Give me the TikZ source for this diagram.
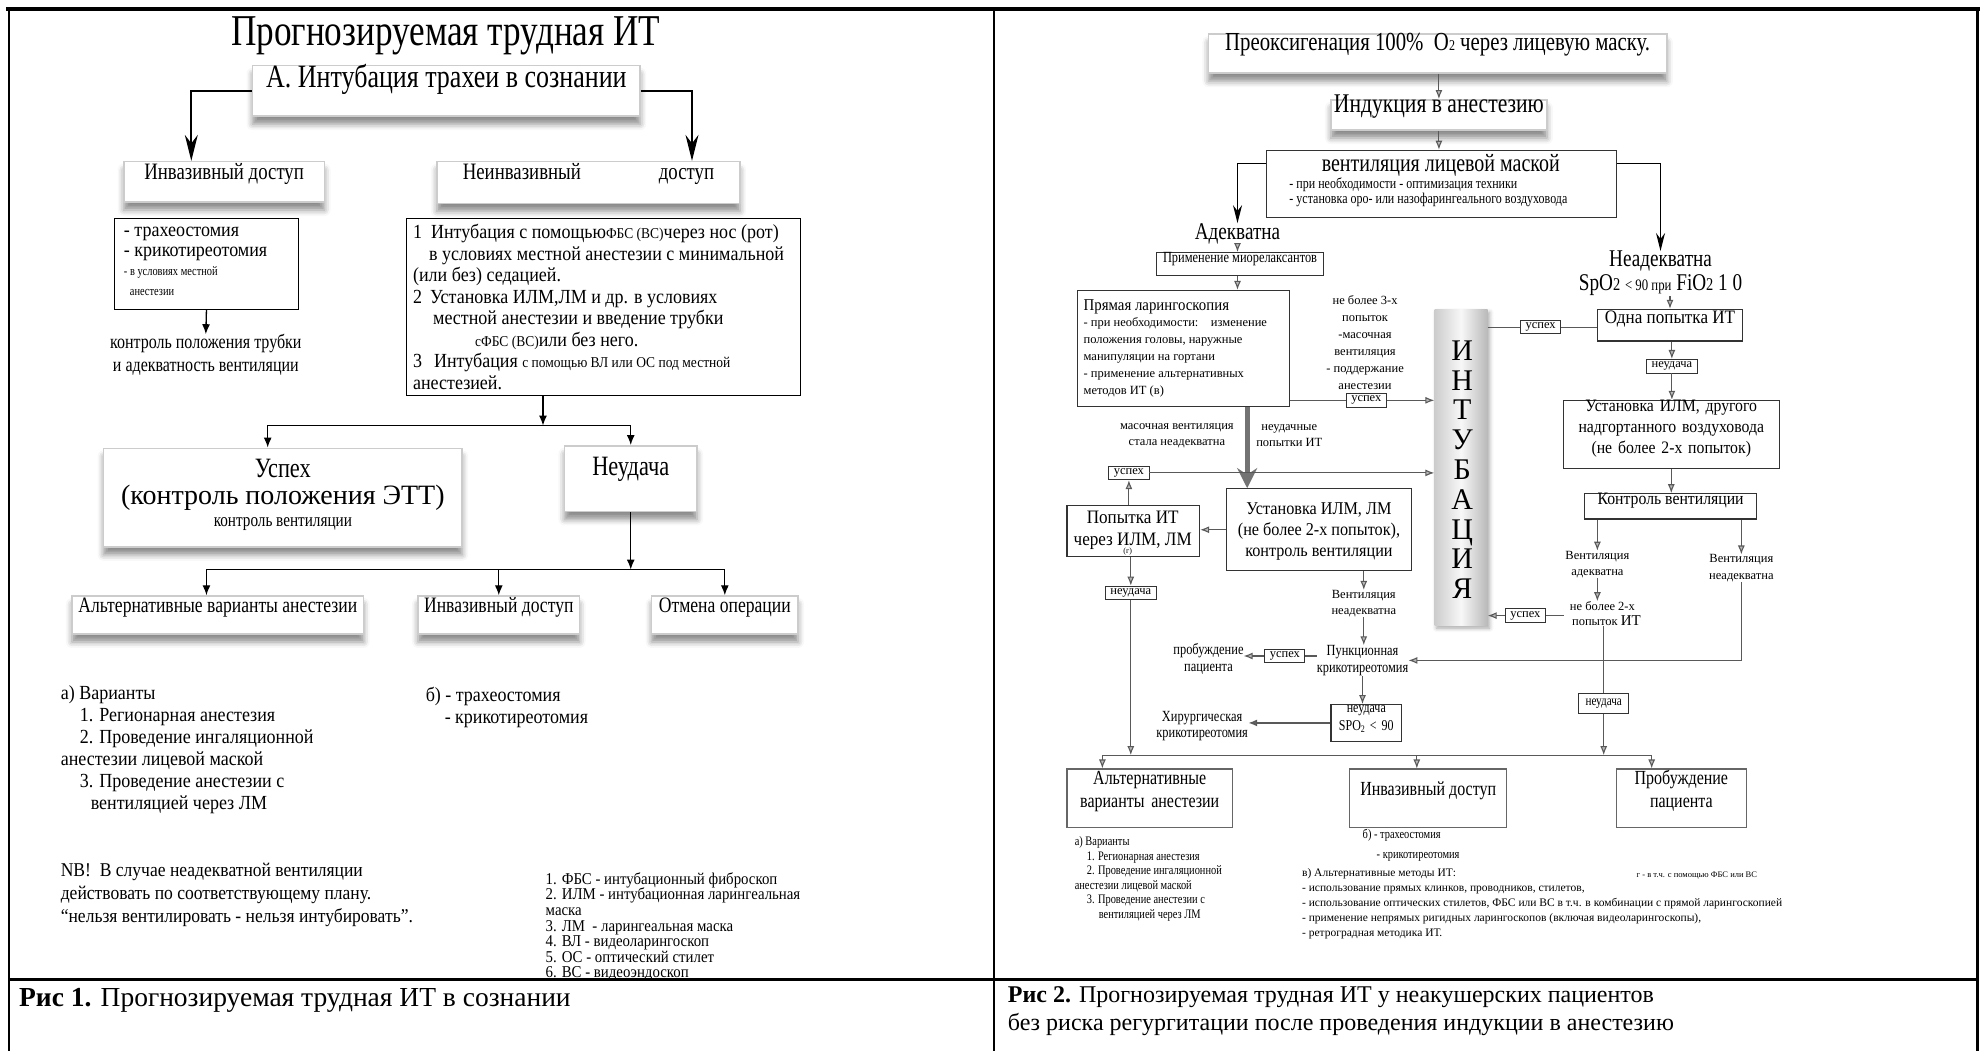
\documentclass[tikz,border=0pt]{standalone}
\usepackage{fontspec}
\setmainfont{Liberation Serif}
\newfontfamily\cA[FakeStretch=0.8]{Liberation Serif}
\newfontfamily\gar[FakeStretch=0.9]{Liberation Serif}
\usetikzlibrary{arrows.meta,shadows.blur,fit,calc}
\newcommand\fz[2]{\fontsize{#1}{#2}\selectfont}

\begin{document}
\begin{tikzpicture}[x=1.2628pt,y=-1.2628pt,
  sbox/.style={draw=gray!40, line width=1.5pt, fill=white, inner sep=0pt,
     blur shadow={shadow xshift=0pt, shadow yshift=-8pt, shadow blur radius=6pt, shadow opacity=45}},
  lbox/.style={draw=black, line width=0.9pt, fill=white, inner sep=0pt},
  rbox/.style={draw=black!80, line width=1.1pt, fill=white, inner sep=0pt},
  tagbox/.style={draw=black!80, line width=0.9pt, fill=white, inner xsep=5pt, inner ysep=2.5pt, font=\fz{12.5}{13}},
  bigarr/.style={-{Stealth[length=26pt,width=13pt]}, line width=1.8pt},
  midarr/.style={-{Stealth[length=18pt,width=9pt]}, line width=1.4pt},
  larr/.style={-{Latex[length=10pt,width=8pt]}, line width=1.3pt},
  garr/.style={-{Latex[length=9pt,width=7pt,fill=gray!55]}, draw=black!65, line width=1.1pt},
  gline/.style={draw=black!65, line width=1.1pt},
  thickarr/.style={-{Stealth[length=20pt,width=20pt]}, draw=black!55, line width=5pt},
  txt/.style={inner sep=0pt}
]
\useasboundingbox (0,0) rectangle (1568,832);

% ---------- frame ----------
\draw[line width=4pt] (5,7) -- (1568,7);
\draw[line width=2.5pt] (7,7) -- (7,832);
\draw[line width=2.5pt] (787,7) -- (787,832);
\draw[line width=2.5pt] (1566,7) -- (1566,832);
\draw[line width=3pt] (7,776) -- (1566,776);

% =================== Fig. 1 ===================
\node[font=\cA\fz{44}{50}] (title) at (353,28) {Прогнозируемая трудная ИТ};
\node[sbox, fit={(200,52)(507,92)}, font=\cA\fz{32.5}{34}] (A) {А. Интубация трахеи в сознании};
\node[sbox, fit={(98,128)(257,160)}, font=\cA\fz{23.5}{26}] (inv) {Инвазивный доступ};
\node[sbox, fit={(346,128)(586,161)}, font=\cA\fz{23.5}{26}] (ninv) {Неинвазивный\hspace{78pt}доступ};
\draw[bigarr] (A.west) -| ($(inv.north)+(-26,0)$);
\draw[bigarr] (A.east) -| ($(ninv.north)+(82,0)$);

\node[lbox, fit={(91,173)(236,245)}] (sb) {};
\node[txt, anchor=west, align=left, font=\gar\fz{20}{19.5}] (sbt) at (98,207)
  {- трахеостомия\\- крикотиреотомия\\{\cA\fz{13}{14}- в условиях местной}\\{\cA\fz{13}{14}\hspace{6pt}анестезии}};
\node[txt, align=center, font=\cA\fz{20}{22.7}] (kt) at (163,281)
  {контроль положения трубки\\и адекватность вентиляции};
\draw[larr] (sb.south) -- (kt.north);

\node[lbox, fit={(322,173)(634,313)}] (big) {};
\node[txt, anchor=west, align=left, font=\gar\fz{20}{21.5}] (bigt) at (327,243)
  {1\hspace{9pt}Интубация с помощью{\fz{15}{15}ФБС (ВС)}через нос (рот)\\
   \hspace{16pt}в условиях местной анестезии с минимальной\\
   (или без) седацией.\\
   2\hspace{8pt}Установка ИЛМ,ЛМ и др. в условиях\\
   \hspace{20pt}местной анестезии и введение трубки\\
   \hspace{62pt}{\fz{15}{15}сФБС (ВС)}или без него.\\
   3\hspace{12pt}Интубация {\fz{15}{15}с помощью ВЛ или ОС под местной}\\
   анестезией.};

\coordinate (s1) at (430,337);
\node[sbox, fit={(82,355)(366,433)}] (usp) {};
\node[txt, font=\cA\fz{28}{30}] (ut1) at (224,371) {Успех};
\node[txt, font=\fz{28}{30}] (ut2) at (224,394) {(контроль положения ЭТТ)};
\node[txt, font=\cA\fz{19}{20}] (ut3) at (224,415) {контроль вентиляции};
\node[sbox, fit={(447,353)(552,405)}, font=\cA\fz{28}{30}] (neud) {Неудача};
\draw[larr] (s1 |- big.south) -- (s1);
\draw[larr] (s1) -| ($(usp.north)+(-12,0)$);
\draw[larr] (s1) -| (neud.north);

\coordinate (s2) at (500,451);
\node[sbox, fit={(57,472)(288,502)}, font=\cA\fz{22}{24}] (alt) {Альтернативные варианты анестезии};
\node[sbox, fit={(331,472)(459,502)}, font=\cA\fz{22}{24}] (inv2) {Инвазивный доступ};
\node[sbox, fit={(516,472)(632,502)}, font=\cA\fz{22}{24}] (otm) {Отмена операции};
\draw[larr] (neud.south) -- (neud.south |- s2);
\draw[larr] (s2) -| ($(alt.north)+(-9,0)$);
\draw[larr] (inv2.north |- s2) -- (inv2.north);
\draw[larr] (s2) -| (otm.north);

\node[txt, anchor=west, align=left, font=\gar\fz{20}{22}] (fa) at (48,594)
  {а) Варианты\\\hspace{19pt}1. Регионарная анестезия\\\hspace{19pt}2. Проведение ингаляционной\\анестезии лицевой маской\\\hspace{19pt}3. Проведение анестезии с\\\hspace{30pt}вентиляцией через ЛМ};
\node[txt, anchor=west, align=left, font=\gar\fz{20}{22}] (fb) at (337,560)
  {б) - трахеостомия\\\hspace{19pt}- крикотиреотомия};
\node[txt, anchor=west, align=left, font=\gar\fz{19.5}{23}] (nb) at (48,709)
  {NB!\ \ В случае неадекватной вентиляции\\действовать по соответствующему плану.\\“нельзя вентилировать - нельзя интубировать”.};
\node[txt, anchor=west, align=left, font=\gar\fz{16.5}{15.6}] (leg) at (432,734)
  {1. ФБС - интубационный фиброскоп\\2. ИЛМ - интубационная ларингеальная\\маска\\3. ЛМ\ \ - ларингеальная маска\\4. ВЛ - видеоларингоскоп\\5. ОС - оптический стилет\\6. ВС - видеоэндоскоп};
\node[txt, anchor=west, font=\fz{27.5}{30}] (cap1) at (15,792)
  {\textbf{Рис 1.} Прогнозируемая трудная ИТ в сознании};

% =================== Fig. 2 ===================
\node[sbox, fit={(957,27)(1320,58)}, font=\cA\fz{26}{28}] (r1) {Преоксигенация 100\%\ \ O{\fz{15}{15}2} через лицевую маску.};
\node[sbox, fit={(1054,79)(1225,103)}, font=\cA\fz{27}{28}] (r2) {Индукция в анестезию};
\draw[garr] (r2.north |- r1.south) -- (r2.north);
\node[rbox, fit={(1003,119)(1280,172)}] (r3) {};
\node[txt, font=\cA\fz{25}{26}] (r3a) at (1141,131) {вентиляция лицевой маской};
\node[txt, anchor=west, align=left, font=\cA\fz{15}{15}] (r3b) at (1021,152)
  {- при необходимости - оптимизация техники\\- установка оро- или назофарингеального воздуховода};
\draw[garr] (r2.south) -- (r2.south |- r3.north);

\node[txt, font=\cA\fz{24}{26}] (adek) at (980,185) {Адекватна};
\node[txt, font=\cA\fz{24}{26}] (nadek) at (1315,207) {Неадекватна};
\node[txt, font=\cA\fz{24}{26}] (spo) at (1315,226) {SpO{\fz{18}{18}2} {\fz{16}{16}< 90 при} FiO{\fz{18}{18}2} 1 0};
\draw[midarr] ([yshift=20pt]r3.west) -| (adek.north);
\draw[midarr] ([yshift=20pt]r3.east) -| (nadek.north);

\node[rbox, fit={(916,200)(1048,218)}, font=\cA\fz{15.5}{16}] (prim) {Применение миорелаксантов};
\draw[garr] (adek.south) -- (adek.south |- prim.north);

\node[rbox, fit={(853,230)(1021,322)}] (pl) {};
\draw[garr] (prim.south -| adek.south) -- (adek.south |- pl.north);
\node[txt, anchor=west, font=\gar\fz{16.5}{18}] (plt) at (858,243) {Прямая ларингоскопия};
\node[txt, anchor=west, align=left, font=\fz{12.5}{16.8}] (pls) at (858,283)
  {- при необходимости:\ \ \ \ изменение\\положения головы, наружные\\манипуляции на гортани\\- применение альтернативных\\методов ИТ (в)};
\node[txt, align=center, font=\fz{12.5}{17}] (nb3) at (1081,271)
  {не более 3-х\\попыток\\-масочная\\вентиляция\\- поддержание\\анестезии};

% intubation bar
\node[fit={(1136,245)(1178,495)}, inner sep=0pt, left color=gray!40, right color=gray!55, middle color=gray!6,
      blur shadow={shadow xshift=2pt, shadow yshift=-3pt, shadow blur radius=4pt, shadow opacity=35}] (bar) {};
\node[txt, align=center, font=\fz{30}{29.8}] (lett) at (1158,372) {И\\Н\\Т\\У\\Б\\А\\Ц\\И\\Я};

\node[tagbox] (us1) at (1082,317) {успех};
\draw[gline] (us1.west -| pl.east) -- (us1.west);
\draw[garr] (us1.east) -- (us1.east -| bar.west);

\node[rbox, fit={(971,387)(1118,452)}] (ust1) {};
\node[txt, align=center, font=\gar\fz{18}{21}] (ust1t) at (1044.5,421)
  {Установка ИЛМ, ЛМ\\(не более 2-х попыток),\\контроль вентиляции};
\draw[thickarr] ($(pl.south west)!0.8!(pl.south east)$) coordinate (t1) -- (t1 |- ust1.north);
\node[txt, align=center, font=\fz{12.5}{16.5}] (ml) at (932,345) {масочная вентиляция\\стала неадекватна};
\node[txt, align=center, font=\fz{12.5}{16.5}] (nl) at (1021,345) {неудачные\\попытки ИТ};

\node[tagbox] (us2) at (894,374.5) {успех};
\draw[garr] (us2.east) -- (us2.east -| bar.west);
\node[rbox, fit={(845,400)(950,441)}] (pop) {};
\node[txt, align=center, font=\gar\fz{19}{21.5}] (popt) at (897,420) {Попытка ИТ\\через ИЛМ, ЛМ};
\node[txt, font=\fz{8}{8}] (gmark) at (893,437) {(г)};
\draw[garr] (pop.north -| us2.south) -- (us2.south);
\draw[garr] (ust1.west) -- (ust1.west -| pop.east);

\coordinate (bl) at (873,598);
\coordinate (br) at (1308,598);
\node[tagbox] (nd1) at (895.5,469.5) {неудача};
\draw[garr] (pop.south -| nd1.north) -- (nd1.north);
\draw[garr] (nd1.south) -- (nd1.south |- bl);

\node[txt, align=center, font=\fz{12.5}{16.5}] (vn1) at (1080,478) {Вентиляция\\неадекватна};
\draw[garr] (vn1.north |- ust1.south) -- (vn1.north);
\node[txt, align=center, font=\cA\fz{15.5}{16.5}] (punk) at (1079,523) {Пункционная\\крикотиреотомия};
\draw[garr] (vn1.south) -- (vn1.south |- punk.north);
\node[tagbox] (us3) at (1017.5,519.5) {успех};
\draw[gline] (us3.east -| punk.west) -- (us3.east);
\node[txt, align=center, font=\cA\fz{15.5}{16.5}] (prob) at (957,522) {пробуждение\\пациента};
\draw[garr] (us3.west) -- (us3.west -| prob.east);
\node[rbox, fit={(1054,558)(1110,587)}, align=center, font=\cA\fz{15}{18}] (nd2)
  {неудача\\SPO{\fz{10}{10}\raisebox{-2pt}{2}} < 90};
\draw[garr] (punk.south) -- (punk.south |- nd2.north);
\node[txt, align=center, font=\cA\fz{15.5}{16.5}] (hir) at (952,575) {Хирургическая\\крикотиреотомия};
\draw[garr, line width=2pt] (nd2.west) -- (nd2.west -| hir.east);

% right column
\node[rbox, fit={(1265,245)(1380,270)}, font=\gar\fz{19}{20}] (odna) {Одна попытка ИТ};
\draw[garr] (odna.north |- spo.south) -- (odna.north);
\node[tagbox] (us4) at (1220,259) {успех};
\draw[gline] (us4.west -| bar.east) -- (us4.west);
\draw[gline] (us4.east) -- (us4.east -| odna.west);
\node[tagbox] (nd3) at (1324,290) {неудача};
\draw[garr] (odna.south -| nd3.north) -- (nd3.north);
\node[rbox, fit={(1238,317)(1409,371)}, align=center, font=\gar\fz{17.5}{21}] (ust2)
  {Установка ИЛМ, другого\\надгортанного воздуховода\\(не более 2-х попыток)};
\draw[garr] (nd3.south) -- (nd3.south |- ust2.north);
\node[rbox, fit={(1255,391)(1391,411)}, font=\gar\fz{17.5}{19}] (kv) {Контроль вентиляции};
\draw[garr] (ust2.south) -- (ust2.south |- kv.north);
\node[txt, align=center, font=\fz{12.5}{16.5}] (va) at (1265,447) {Вентиляция\\адекватна};
\node[txt, align=center, font=\fz{12.5}{16.5}] (vn2) at (1379,450) {Вентиляция\\неадекватна};
\draw[garr] (va.north |- kv.south) -- (va.north);
\draw[garr] (vn2.north |- kv.south) -- (vn2.north);
\draw[garr] (vn2.south) |- (punk.east);
\node[txt, align=center, font=\fz{12.5}{15.5}] (nb2) at (1269,486) {не более 2-х\\\hspace{8pt}попыток {\fz{15}{15}ИТ}};
\draw[garr] (va.south) -- (va.south |- nb2.north);
\node[tagbox] (us5) at (1208,487.5) {успех};
\draw[gline] (us5.east -| nb2.west) -- (us5.east);
\draw[garr] (us5.west) -- (us5.west -| bar.east);
\node[tagbox, font=\cA\fz{14}{15}, inner xsep=7pt, inner ysep=5pt] (nd4) at (1270,557) {неудача};
\draw[gline] (nd4.north |- nb2.south) -- (nd4.north);
\draw[garr] (nd4.south) -- (nd4.south |- bl);

% bottom row
\node[rbox, draw=black!60, fit={(845,609)(976,655)}, align=center, font=\cA\fz{20}{23}] (alt2) {Альтернативные\\варианты анестезии};
\node[rbox, draw=black!60, fit={(1069,609)(1193,655)}, font=\cA\fz{20}{23}] (inv3) {Инвазивный доступ};
\node[rbox, draw=black!60, fit={(1280,609)(1383,655)}, align=center, font=\cA\fz{20}{23}] (prob2) {Пробуждение\\пациента};
\draw[gline] (bl) -- (br);
\draw[garr] (bl) -- (bl |- alt2.north);
\draw[garr] ($(inv3.north |- bl)+(-9,0)$) -- ($(inv3.north)+(-9,0)$);
\draw[garr] (br) -- (br |- prob2.north);

\node[txt, anchor=west, align=left, font=\cA\fz{13}{14.6}] (ra) at (851,696)
  {а) Варианты\\\hspace{12pt}1. Регионарная анестезия\\\hspace{12pt}2. Проведение ингаляционной\\анестезии лицевой маской\\\hspace{12pt}3. Проведение анестезии с\\\hspace{24pt}вентиляцией через ЛМ};
\node[txt, anchor=west, align=left, font=\cA\fz{13}{20}] (rb) at (1079,669)
  {б) - трахеостомия\\\hspace{14pt}- крикотиреотомия};
\node[txt, anchor=west, align=left, font=\fz{11.5}{15}] (rv) at (1031,716)
  {в) Альтернативные методы ИТ:\\- использование прямых клинков, проводников, стилетов,\\- использование оптических стилетов, ФБС или ВС в т.ч. в комбинации с прямой ларингоскопией\\- применение непрямых ригидных ларингоскопов (включая видеоларингоскопы),\\- ретроградная методика ИТ.};
\node[txt, anchor=west, font=\fz{8.5}{10}] (rg) at (1296,693) {г - в т.ч. с помощью ФБС или ВС};

\node[txt, anchor=west, align=left, font=\fz{24}{28}] (cap2) at (798,801)
  {\textbf{Рис 2.} Прогнозируемая трудная ИТ у неакушерских пациентов\\без риска регургитации после проведения индукции в анестезию};
\end{tikzpicture}
\end{document}
